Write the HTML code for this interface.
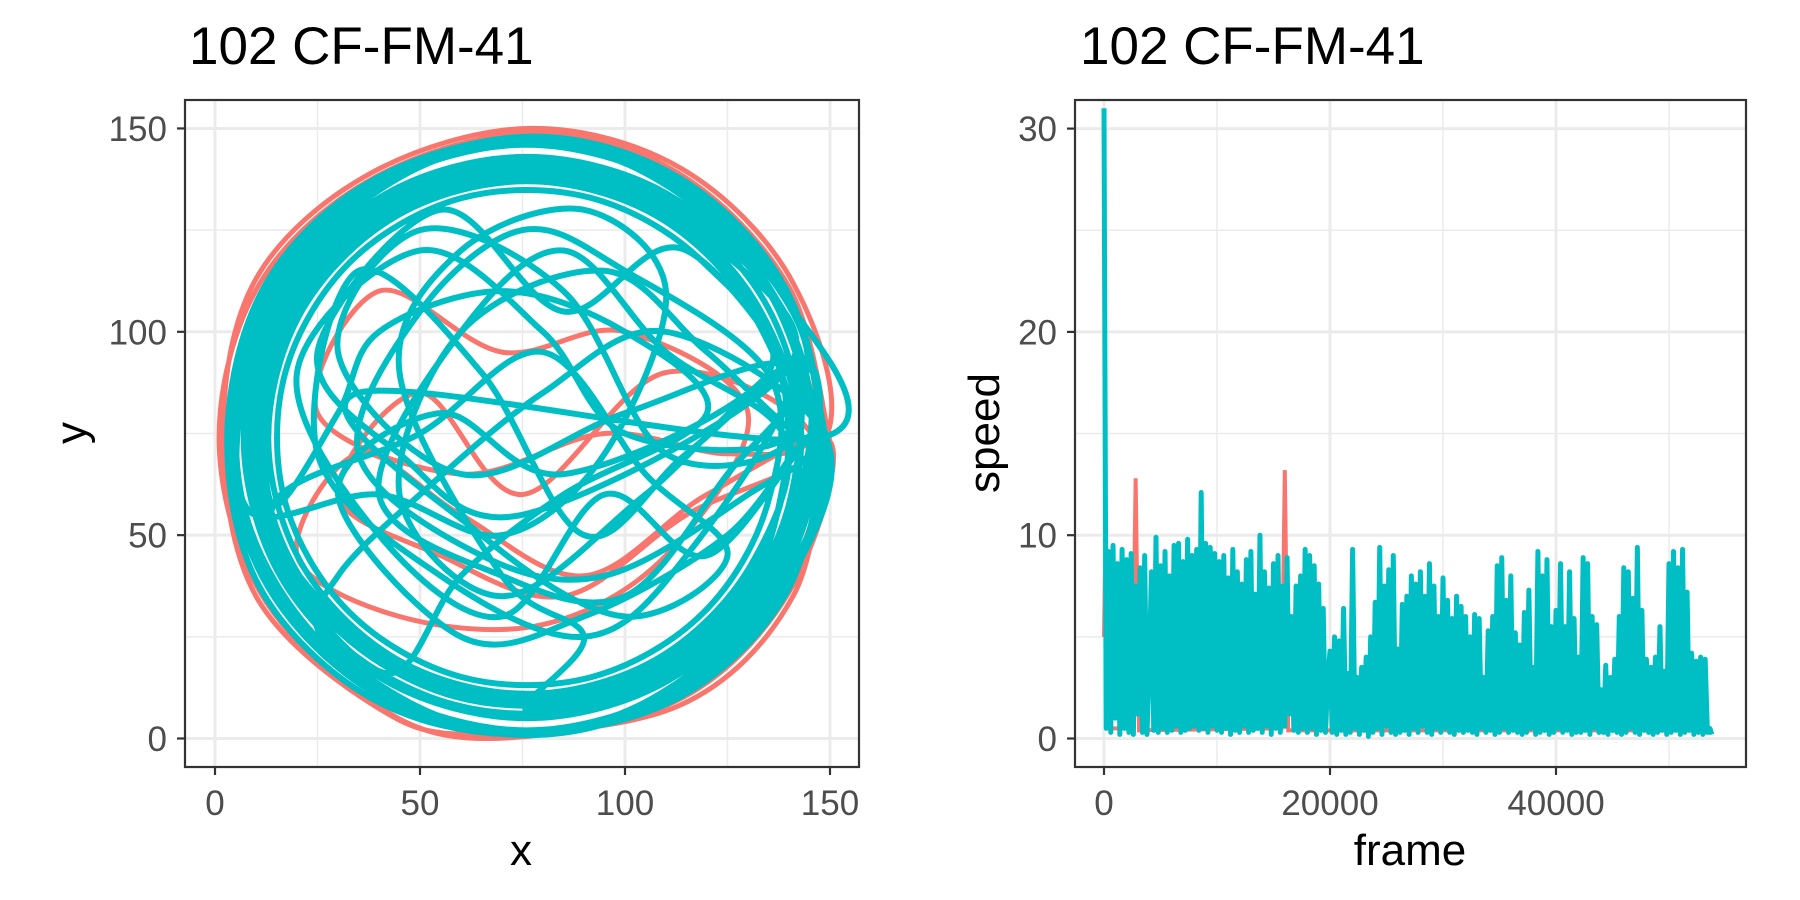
<!DOCTYPE html>
<html><head><meta charset="utf-8">
<style>
html,body{margin:0;padding:0;background:#fff;}
svg{display:block;font-family:"Liberation Sans",Arial,sans-serif;}
</style></head>
<body>
<svg id="chart" width="1800" height="900" viewBox="0 0 1800 900" xmlns="http://www.w3.org/2000/svg">
  <defs>
    <clipPath id="clipL"><rect x="185" y="100" width="674" height="667"/></clipPath>
    <clipPath id="clipR"><rect x="1075" y="100" width="671" height="667"/></clipPath>
  </defs>
  <rect width="1800" height="900" fill="#fff"/>
  <text x="189" y="64" font-size="53" fill="#000">102 CF-FM-41</text>
  <text x="1080" y="64" font-size="53" fill="#000">102 CF-FM-41</text>
  <g id="gridL"></g>
  <g id="gridR"></g>
  <g id="marksL" clip-path="url(#clipL)"></g>
  <g id="marksR" clip-path="url(#clipR)"></g>
  <rect x="185" y="100" width="674" height="667" fill="none" stroke="#333" stroke-width="2.2"/>
  <rect x="1075" y="100" width="671" height="667" fill="none" stroke="#333" stroke-width="2.2"/>
  <g id="axesL"></g>
  <g id="axesR"></g>
  <text x="521" y="865" font-size="44" text-anchor="middle" fill="#000">x</text>
  <text transform="translate(86,433) rotate(-90)" font-size="44" text-anchor="middle" fill="#000">y</text>
  <text x="1410" y="865" font-size="44" text-anchor="middle" fill="#000">frame</text>
  <text transform="translate(999,433) rotate(-90)" font-size="44" text-anchor="middle" fill="#000">speed</text>
</svg>
<script>
// ---- data: trajectory (left) ----
const xyTicks = [0, 50, 100, 150];
const xyMinor = [25, 75, 125];
const redX = [150,140,113,78,39,11,1,11,38,66,112,140,150,120,90,60,35,20,45,80,110,130,100,70,40,25,60,95,125,146,139,112,76,40,13,4,13,40,76,112,139,146,110,75,50,30,55,85,115,
  149,141,114,77,38,10,2,10,39,64,113,141,149];
const redY = [73,111,139,149,138,112,74,36,9,0,9,36,73,60,40,55,70,45,30,28,45,80,100,95,110,80,65,75,70,75,110,137,147,136,110,74,38,12,2,12,38,74,90,60,85,60,45,35,55,
  74,112,140,150,139,113,75,35,8,1,8,35,74];
const cyanX = [149,139.2,112.5,76,39.5,12.8,3,12.8,39.5,76,112.5,139.2,149,110,80,50,30,
  26.5,57.9,94.1,125.5,143.6,143.6,125.5,94.1,57.9,26.5,8.4,8.4,40,70,95,110,90,60,45,70,90,
  76,109.5,134,143,134,109.5,76,42.5,18,9,18,42.5,60,85,120,100,70,40,30,
  14.2,14.2,30.7,59.4,92.6,121.3,137.8,137.8,121.3,92.6,59.4,30.7,14.2,50,80,105,125,100,65,35,
  148,138,112,76,40,14,4,14,40,76,112,138,148,115,85,55,25,45,75,
  139.8,122.7,93.1,58.9,29.3,12.2,12.2,29.3,58.9,93.1,122.7,139.8,139.8,105,70,45,60,95,120,
  145,135.8,110.5,76,41.5,16.2,7,16.2,41.5,76,110.5,135.8,145,125,90,60,30,55,85,
  134.9,119.1,91.8,60.2,32.9,17.1,17.1,32.9,60.2,91.8,119.1,134.9,134.9,100,75,50,35,65,95,130,
  147,139,113,77,38,12,3,11,38,74,113,140,147,120,95,70,40,20,50,80,100,
  139,130.6,107.5,76,44.5,21.4,13,21.4,44.5,76,107.5,130.6,139,110,85,60,40,70,100,125,
  144.6,126.2,94.4,57.6,25.8,7.4,7.4,25.8,57.6,94.4,126.2,144.6,144.6,115,90,65,35,25,55,90,115,
  141.7,124.1,93.6,58.4,27.9,10.3,10.3,27.9,58.4,93.6,124.1,141.7,141.7,100,60,30,50,85,110,
  141,132.3,108.5,76,43.5,19.7,11,19.7,43.5,76,108.5,132.3,141,146,147,144,140];
const cyanY = [74,110.5,137.2,147,137.2,110.5,74,37.5,10.8,1,10.8,37.5,74,100,85,60,40,
  24.5,4.4,4.4,24.5,55.9,92.1,123.5,143.6,143.6,123.5,92.1,55.9,60,50,70,110,130,120,90,40,25,
  7,16,40.5,74,107.5,132,141,132,107.5,74,40.5,16,40,60,80,100,110,100,80,
  57.4,90.6,119.3,135.8,135.8,119.3,90.6,57.4,28.7,12.2,12.2,28.7,57.4,75,95,65,45,30,50,85,
  74,110,136,146,136,110,74,38,12,2,12,38,74,120,105,130,95,70,55,
  91.1,120.7,137.8,137.8,120.7,91.1,56.9,27.3,10.2,10.2,27.3,56.9,91.1,60,35,60,100,115,95,
  74,108.5,133.8,143,133.8,108.5,74,39.5,14.2,5,14.2,39.5,74,50,30,25,60,80,65,
  89.8,117.1,132.9,132.9,117.1,89.8,58.2,30.9,15.1,15.1,30.9,58.2,89.8,115,125,105,70,45,40,60,
  75,111,138,148,137,111,74,37,10,1,10,37,75,45,60,30,50,90,120,100,75,
  74,105.5,128.6,137,128.6,105.5,74,42.5,19.4,11,19.4,42.5,74,95,120,100,60,40,35,65,
  92.4,124.2,144.6,144.6,124.2,92.4,55.6,23.8,3.4,3.4,23.8,55.6,92.4,70,50,90,115,70,40,25,45,
  91.6,122.1,139.7,139.7,122.1,91.6,56.4,25.9,8.3,8.3,25.9,56.4,91.6,80,65,95,125,110,70,
  74,106.5,130.3,139,130.3,106.5,74,41.5,17.7,9,17.7,41.5,74,85,70,60,50];
// ---- data: speed (right) ----
const frameTicks = [0, 20000, 40000];
const frameMinor = [10000, 30000, 50000];
const speedTicks = [0, 10, 20, 30];
const speedMinor = [5, 15, 25];
const cyanFrameStep = 200;
const cyanSpeed = [
31,0.5,9.2,0.3,9.5,1,8.6,0.2,9.3,0.5,
8.8,0.3,9.1,0.2,7.5,1.2,8.4,0.3,9.0,0.2,
3.5,8.2,0.4,9.9,0.3,8.5,0.5,9.2,0.3,8.0,
0.4,9.5,0.6,9.6,0.3,8.7,0.4,9.8,0.5,9.0,
0.6,9.3,0.4,12.1,0.5,9.6,0.3,9.4,0.6,9.1,
0.4,8.7,0.3,9.0,0.5,7.9,0.2,9.3,0.4,8.2,
0.3,7.6,0.6,8.8,0.3,9.2,0.4,7.1,0.5,10.0,
0.3,8.2,0.6,7.4,0.2,8.6,0.5,9.0,0.3,7.5,
0.6,8.9,1.2,6.0,0.4,7.5,0.3,8.0,0.5,9.3,
0.3,9.0,0.5,8.5,0.2,7.6,0.4,6.4,0.3,2.9,
4.3,0.3,5.0,0.2,4.8,0.4,6.4,0.2,3.2,0.3,
9.3,0.5,3.0,0.2,3.5,0.4,4.0,0.1,5.0,0.3,
6.7,0.5,9.4,0.2,7.5,0.6,8.3,0.3,9.0,0.2,
4.4,0.3,6.6,0.4,7.0,0.2,8.0,0.5,7.6,0.3,
8.2,0.6,7.0,0.3,8.6,0.2,7.5,0.5,6.0,0.3,
7.9,0.5,6.8,0.3,5.9,0.2,7.0,0.4,6.5,0.3,
6.0,0.4,5.0,0.3,6.1,0.2,5.9,0.5,3.0,0.3,
5.3,0.4,6.0,0.2,8.5,0.3,8.9,0.5,6.8,0.3,
8.0,0.4,5.2,0.3,4.6,0.2,6.2,0.3,7.3,0.5,
3.5,0.2,9.2,0.3,8.0,0.4,8.8,0.2,5.5,0.3,
6.3,0.5,8.6,0.3,5.5,0.4,8.2,0.2,5.9,0.3,
4.0,0.3,8.9,0.4,8.6,0.2,6.0,0.5,5.6,0.3,
2.4,0.3,3.6,0.2,3.0,0.4,3.9,0.3,6.0,0.2,
8.4,0.3,8.2,0.5,6.9,0.3,9.4,0.2,6.3,0.4,
3.9,0.3,3.5,0.2,4.0,0.3,5.5,0.4,3.3,0.2,
8.6,0.3,9.2,0.4,8.4,0.2,9.3,0.3,7.2,0.4,
4.2,0.2,3.8,0.3,4.0,0.2,3.9,0.3,0.5,0.2];
const redFrames = [0,150,400,2500,2800,3100,15700,16000,16300,53900];
const redSpeed = [5,10.8,0.5,0.5,12.8,0.4,0.5,13.2,0.4,0.4];

const NS = 'http://www.w3.org/2000/svg';
const RED = '#F8766D', CYAN = '#00BFC4';
const sxL = v => 215 + v * 4.1;
const syL = v => 738.5 - v * 4.067;
const sxR = v => 1104 + v * 0.0113;
const syR = v => 738.5 - v * 20.33;

function mk(tag, attrs, parent) {
  const e = document.createElementNS(NS, tag);
  for (const k in attrs) e.setAttribute(k, attrs[k]);
  parent.appendChild(e);
  return e;
}
// Catmull-Rom spline through every data point
function smoothPath(xs, ys) {
  const p = xs.map((x, i) => [sxL(x), syL(ys[i])]);
  const n = p.length;
  let d = 'M' + p[0][0].toFixed(1) + ' ' + p[0][1].toFixed(1);
  for (let i = 0; i < n - 1; i++) {
    const p0 = p[Math.max(0, i - 1)], p1 = p[i], p2 = p[i + 1], p3 = p[Math.min(n - 1, i + 2)];
    const c1x = p1[0] + (p2[0] - p0[0]) / 6, c1y = p1[1] + (p2[1] - p0[1]) / 6;
    const c2x = p2[0] - (p3[0] - p1[0]) / 6, c2y = p2[1] - (p3[1] - p1[1]) / 6;
    d += ' C' + c1x.toFixed(1) + ' ' + c1y.toFixed(1) + ' ' + c2x.toFixed(1) + ' ' + c2y.toFixed(1) + ' ' + p2[0].toFixed(1) + ' ' + p2[1].toFixed(1);
  }
  return d;
}

// grids
const gL = document.getElementById('gridL'), gR = document.getElementById('gridR');
xyMinor.forEach(v => {
  const a = mk('line', {x1: sxL(v), x2: sxL(v), y1: 100, y2: 767, stroke: '#EBEBEB', 'stroke-width': 1.5}, gL);
  
  
  const b = mk('line', {x1: 185, x2: 859, y1: syL(v), y2: syL(v), stroke: '#EBEBEB', 'stroke-width': 1.5}, gL);
  
  
});
xyTicks.forEach(v => {
  const a = mk('line', {x1: sxL(v), x2: sxL(v), y1: 100, y2: 767, stroke: '#EBEBEB', 'stroke-width': 3}, gL);
  
  
  const b = mk('line', {x1: 185, x2: 859, y1: syL(v), y2: syL(v), stroke: '#EBEBEB', 'stroke-width': 3}, gL);
  
  
});
frameMinor.forEach(v => {
  const a = mk('line', {x1: sxR(v), x2: sxR(v), y1: 100, y2: 767, stroke: '#EBEBEB', 'stroke-width': 1.5}, gR);
  
  
});
speedMinor.forEach(v => {
  const b = mk('line', {x1: 1075, x2: 1746, y1: syR(v), y2: syR(v), stroke: '#EBEBEB', 'stroke-width': 1.5}, gR);
  
  
});
frameTicks.forEach(v => {
  const a = mk('line', {x1: sxR(v), x2: sxR(v), y1: 100, y2: 767, stroke: '#EBEBEB', 'stroke-width': 3}, gR);
  
  
});
speedTicks.forEach(v => {
  const b = mk('line', {x1: 1075, x2: 1746, y1: syR(v), y2: syR(v), stroke: '#EBEBEB', 'stroke-width': 3}, gR);
  
  
});

// trajectory
const mL = document.getElementById('marksL');
const rp = mk('path', {d: smoothPath(redX, redY), fill: 'none', stroke: RED, 'stroke-width': 5, 'stroke-linejoin': 'round'}, mL);


const cp = mk('path', {d: smoothPath(cyanX, cyanY), fill: 'none', stroke: CYAN, 'stroke-width': 6, 'stroke-linejoin': 'round'}, mL);



// speed
const mR = document.getElementById('marksR');
const rpts = redFrames.map((f, i) => sxR(f) + ',' + syR(redSpeed[i])).join(' ');
const rl = mk('polyline', {points: rpts, fill: 'none', stroke: RED, 'stroke-width': 4}, mR);


const cpts = cyanSpeed.map((s, i) => sxR(i * cyanFrameStep) + ',' + syR(s)).join(' ');
const cl = mk('polyline', {points: cpts, fill: 'none', stroke: CYAN, 'stroke-width': 5, 'stroke-linejoin': 'round'}, mR);



// axes ticks & labels
const aL = document.getElementById('axesL'), aR = document.getElementById('axesR');
xyTicks.forEach(v => {
  const t = mk('line', {x1: sxL(v), x2: sxL(v), y1: 767, y2: 775, stroke: '#333', 'stroke-width': 2.2}, aL);
  
  
  const l = mk('text', {x: sxL(v), y: 815, 'font-size': 35, fill: '#4D4D4D', 'text-anchor': 'middle'}, aL);
  l.textContent = v;
  
  
  const t2 = mk('line', {x1: 177, x2: 185, y1: syL(v), y2: syL(v), stroke: '#333', 'stroke-width': 2.2}, aL);
  
  
  const l2 = mk('text', {x: 167, y: syL(v) + 12.5, 'font-size': 35, fill: '#4D4D4D', 'text-anchor': 'end'}, aL);
  l2.textContent = v;
  
  
});
frameTicks.forEach(v => {
  const t = mk('line', {x1: sxR(v), x2: sxR(v), y1: 767, y2: 775, stroke: '#333', 'stroke-width': 2.2}, aR);
  
  
  const l = mk('text', {x: sxR(v), y: 815, 'font-size': 35, fill: '#4D4D4D', 'text-anchor': 'middle'}, aR);
  l.textContent = v;
  
  
});
speedTicks.forEach(v => {
  const t2 = mk('line', {x1: 1067, x2: 1075, y1: syR(v), y2: syR(v), stroke: '#333', 'stroke-width': 2.2}, aR);
  
  
  const l2 = mk('text', {x: 1057, y: syR(v) + 12.5, 'font-size': 35, fill: '#4D4D4D', 'text-anchor': 'end'}, aR);
  l2.textContent = v;
  
  
});
</script>
</body></html>
